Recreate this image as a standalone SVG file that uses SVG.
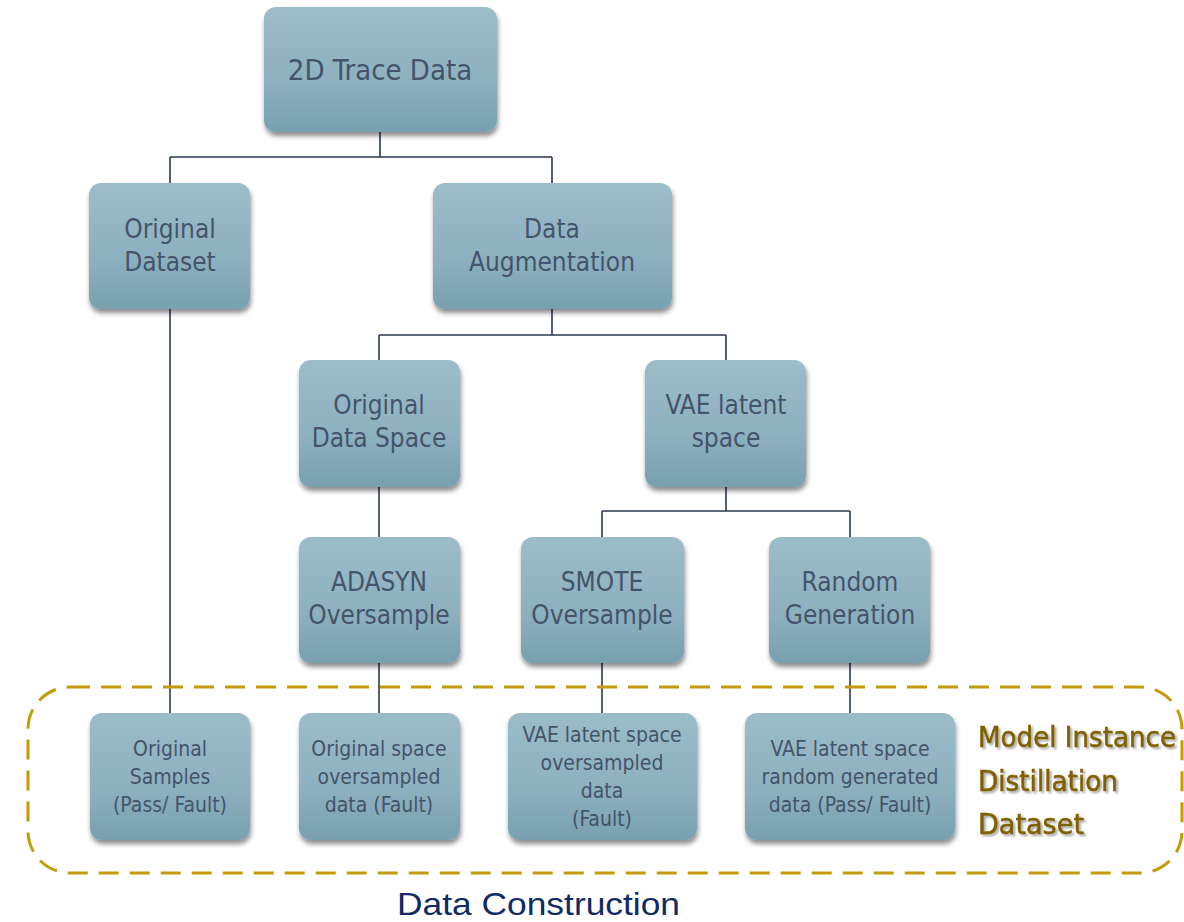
<svg xmlns="http://www.w3.org/2000/svg" width="1184" height="922" viewBox="0 0 1184 922">
<defs>
<linearGradient id="g" x1="0" y1="0" x2="0" y2="1">
<stop offset="0" stop-color="#9CBCC9"/>
<stop offset="0.6" stop-color="#8DB0BF"/>
<stop offset="1" stop-color="#78A0B0"/>
</linearGradient>
<filter id="sh" x="-10%" y="-10%" width="125%" height="130%">
<feGaussianBlur in="SourceAlpha" stdDeviation="2.5"/>
<feOffset dx="1" dy="4" result="b"/>
<feComponentTransfer><feFuncA type="linear" slope="0.45"/></feComponentTransfer>
<feMerge><feMergeNode/><feMergeNode in="SourceGraphic"/></feMerge>
</filter>
<filter id="tsh" x="-5%" y="-5%" width="110%" height="120%">
<feGaussianBlur in="SourceAlpha" stdDeviation="1"/>
<feOffset dx="1.5" dy="2" result="b"/>
<feComponentTransfer><feFuncA type="linear" slope="0.35"/></feComponentTransfer>
<feMerge><feMergeNode/><feMergeNode in="SourceGraphic"/></feMerge>
</filter>
</defs>
<style>
.box{fill:url(#g);filter:url(#sh)}
.t{font-family:"Liberation Sans Narrow","DejaVu Sans Condensed","Liberation Sans",sans-serif;fill:#44546A;text-anchor:middle}
.l{font-size:26px}
.s{font-size:21px}
.c{stroke:#2B3A4E;stroke-width:1.6;fill:none}
.m{font-family:"Liberation Sans Narrow","DejaVu Sans Condensed","Liberation Sans",sans-serif;font-size:29px;fill:#7F6000;stroke:#7F6000;stroke-width:0.5}
</style>
<rect width="1184" height="922" fill="#FFFFFF"/>
<g id="connectors">
<path class="c" d="M380,132V157M170,157H552M170,157V183M552,157V183"/>
<path class="c" d="M170,309V713"/>
<path class="c" d="M552,309V335M379,335H726M379,335V360M726,335V360"/>
<path class="c" d="M379,487V537"/>
<path class="c" d="M726,487V511M602,511H850M602,511V537M850,511V537"/>
<path class="c" d="M379,663V713M602,663V713M850,663V713"/>
</g>
<g id="dataset-box">
<rect x="28" y="687" width="1154" height="186" rx="42" fill="none" stroke="#C59A0A" stroke-width="3" stroke-dasharray="20 11"/>
</g>
<g id="n-trace"><rect class="box" x="264" y="7" width="233" height="125" rx="12"/><text class="t" x="380" y="80" style="font-size:29px">2D Trace Data</text></g>
<g id="n-original-dataset"><rect class="box" x="89" y="183" width="161" height="126" rx="12"/><text class="t l" x="170" y="238">Original</text><text class="t l" x="170" y="271">Dataset</text></g>
<g id="n-augmentation"><rect class="box" x="433" y="183" width="239" height="126" rx="12"/><text class="t l" x="552" y="238">Data</text><text class="t l" x="552" y="271">Augmentation</text></g>
<g id="n-original-space"><rect class="box" x="299" y="360" width="161" height="127" rx="12"/><text class="t l" x="379" y="414">Original</text><text class="t l" x="379" y="447">Data Space</text></g>
<g id="n-vae"><rect class="box" x="645" y="360" width="161" height="127" rx="12"/><text class="t l" x="726" y="414">VAE latent</text><text class="t l" x="726" y="447">space</text></g>
<g id="n-adasyn"><rect class="box" x="299" y="537" width="161" height="126" rx="12"/><text class="t l" x="379" y="591">ADASYN</text><text class="t l" x="379" y="624">Oversample</text></g>
<g id="n-smote"><rect class="box" x="521" y="537" width="163" height="126" rx="12"/><text class="t l" x="602" y="591">SMOTE</text><text class="t l" x="602" y="624">Oversample</text></g>
<g id="n-random"><rect class="box" x="769" y="537" width="161" height="126" rx="12"/><text class="t l" x="850" y="591">Random</text><text class="t l" x="850" y="624">Generation</text></g>
<g id="n-orig-samples"><rect class="box" x="90" y="713" width="160" height="127" rx="12"/><text class="t s" x="170" y="756">Original</text><text class="t s" x="170" y="784">Samples</text><text class="t s" x="170" y="812">(Pass/ Fault)</text></g>
<g id="n-orig-over"><rect class="box" x="299" y="713" width="161" height="127" rx="12"/><text class="t s" x="379" y="756">Original space</text><text class="t s" x="379" y="784">oversampled</text><text class="t s" x="379" y="812">data (Fault)</text></g>
<g id="n-vae-over"><rect class="box" x="508" y="713" width="189" height="127" rx="12"/><text class="t s" x="602" y="742">VAE latent space</text><text class="t s" x="602" y="770">oversampled</text><text class="t s" x="602" y="798">data</text><text class="t s" x="602" y="826">(Fault)</text></g>
<g id="n-vae-random"><rect class="box" x="745" y="713" width="210" height="127" rx="12"/><text class="t s" x="850" y="756">VAE latent space</text><text class="t s" x="850" y="784">random generated</text><text class="t s" x="850" y="812">data (Pass/ Fault)</text></g>
<g id="label-dataset" filter="url(#tsh)">
<text class="m" x="978" y="747" textLength="198" lengthAdjust="spacingAndGlyphs">Model Instance</text>
<text class="m" x="978" y="791" textLength="140" lengthAdjust="spacingAndGlyphs">Distillation</text>
<text class="m" x="978" y="834" textLength="106" lengthAdjust="spacingAndGlyphs">Dataset</text>
</g>
<text x="397" y="915" textLength="283" lengthAdjust="spacingAndGlyphs" style="font-family:'Liberation Sans','Arial',sans-serif;font-size:32px;fill:#0F2A66">Data Construction</text>
</svg>
